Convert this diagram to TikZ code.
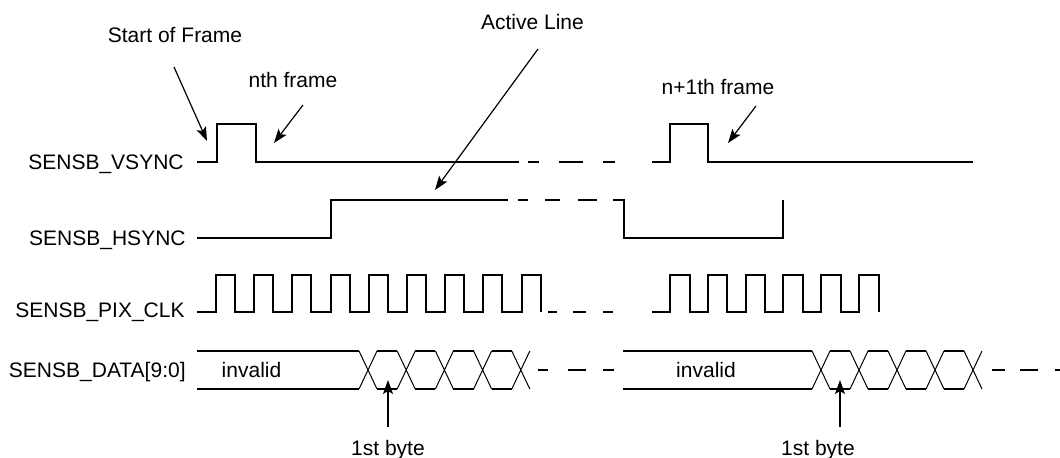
\documentclass[tikz,border=0pt]{standalone}
\usepackage{fontspec}
\setmainfont{Liberation Sans}
\usetikzlibrary{arrows.meta}
\begin{document}
\begin{tikzpicture}[x=0.5pt,y=-0.5pt,
  sig/.style={line width=1pt,line join=miter},
  bus/.style={line width=0.85pt},
  xing/.style={line width=0.5pt},
  note/.style={line width=0.6pt,-{Stealth[length=7pt,width=5pt,inset=1.5pt]}},
  lbl/.style={font=\fontsize{10.5}{12}\selectfont,inner sep=0pt},
  sname/.style={lbl,anchor=base east}]
\useasboundingbox (0,0) rectangle (1060,458);

% signal names
\node[sname] (lv) at (184,169.5) {SENSB\_VSYNC};
\node[sname] (lh) at (186,246) {SENSB\_HSYNC};
\node[sname] (lp) at (185,318) {SENSB\_PIX\_CLK};
\node[sname] (ld) at (186,377.5) {SENSB\_DATA[9:0]};

% VSYNC
\draw[sig] (197,162) -- (217,162) -- (217,124) -- (256,124) -- (256,162) -- (519,162);
\draw[sig] (528,162) -- (539,162) (559,162) -- (583,162) (603,162) -- (615,162);
\draw[sig] (652,162) -- (670,162) -- (670,124) -- (708,124) -- (708,162) -- (973,162);

% HSYNC
\draw[sig] (197,238) -- (331,238) -- (331,200) -- (508,200);
\draw[sig] (518,200) -- (528,200) (545,200) -- (560,200) (578,200) -- (597,200);
\draw[sig] (613,200) -- (624,200) -- (624,238) -- (783,238) -- (783,200);

% PIX_CLK
\draw[sig] (197,312) foreach \k in {0,...,8} {
  -- ({216+38.2*\k},312) -- ({216+38.2*\k},275) -- ({235+38.2*\k},275) -- ({235+38.2*\k},312) };
\draw[sig] (548,312) -- (557,312) (573,312) -- (586,312) (603,312) -- (613,312);
\draw[sig] (652,312) foreach \k in {0,...,5} {
  -- ({670+37.8*\k},312) -- ({670+37.8*\k},275) -- ({689.5+37.8*\k},275) -- ({689.5+37.8*\k},312) };

% DATA, first frame
\draw[bus] (197,351) -- (359,351) (197,389) -- (359,389);
\foreach \k in {0,...,4} {
  \pgfmathsetmacro{\c}{368+38.2*\k}
  \draw[xing] (\c-9,351) -- (\c+9,389) (\c-9,389) -- (\c+9,351);
}
\foreach \k in {0,...,3} {
  \pgfmathsetmacro{\c}{368+38.2*\k}
  \draw[bus] (\c+9,351) -- (\c+29.2,351) (\c+9,389) -- (\c+29.2,389);
}
\draw[sig] (538,370) -- (548,370) (568,370) -- (586,370) (603,370) -- (614,370);
\node[lbl,anchor=base] (inv1) at (251.5,377.5) {invalid};

% DATA, second frame
\draw[bus] (623,351) -- (812,351) (623,389) -- (812,389);
\foreach \k in {0,...,4} {
  \pgfmathsetmacro{\c}{821+38*\k}
  \draw[xing] (\c-9,351) -- (\c+9,389) (\c-9,389) -- (\c+9,351);
}
\foreach \k in {0,...,3} {
  \pgfmathsetmacro{\c}{821+38*\k}
  \draw[bus] (\c+9,351) -- (\c+29,351) (\c+9,389) -- (\c+29,389);
}
\draw[sig] (992,370) -- (1005,370) (1020,370) -- (1038,370) (1055,370) -- (1062,370);
\node[lbl,anchor=base] (inv2) at (706,377.5) {invalid};

% annotations
\node[lbl,anchor=base] (sof) at (175,42.5) {Start of Frame};
\node[lbl,anchor=base] (nth) at (293,88) {nth frame};
\node[lbl,anchor=base] (act) at (532.5,30) {Active Line};
\node[lbl,anchor=base] (n1th) at (718,95) {n+1th frame};
\node[lbl,anchor=base] (b1) at (388,456) {1st byte};
\node[lbl,anchor=base] (b2) at (818,456) {1st byte};

\coordinate (sofS) at (174,67);
\coordinate (sofE) at (207,141);
\coordinate (nthS) at (303,105);
\coordinate (nthE) at (274,143);
\coordinate (actS) at (538,49);
\coordinate (actE) at (435,190);
\coordinate (n1S) at (756,106);
\coordinate (n1E) at (728,143);
\coordinate (b1S) at (388,427);
\coordinate (b1E) at (388,380);
\coordinate (b2S) at (840,427);
\coordinate (b2E) at (840,380);

\draw[note] (sofS) -- (sofE);
\draw[note] (nthS) -- (nthE);
\draw[note] (actS) -- (actE);
\draw[note] (n1S) -- (n1E);
\draw[note] (b1S) -- (b1E);
\draw[note] (b2S) -- (b2E);
\end{tikzpicture}
\end{document}
